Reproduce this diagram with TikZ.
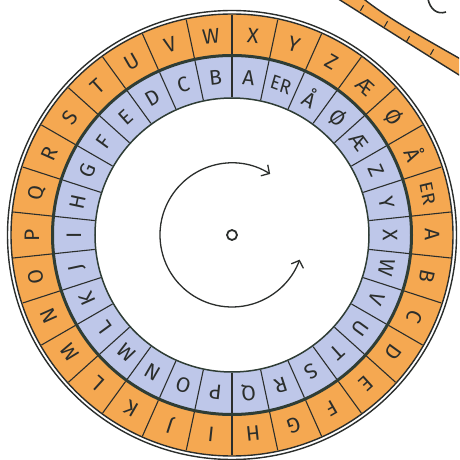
\documentclass[tikz,border=0pt]{standalone}
\usepackage{fontspec}
\setmainfont{Fira Sans}
\usetikzlibrary{arrows.meta}
\definecolor{ringorange}{HTML}{F5A851}
\definecolor{ringblue}{HTML}{BEC7E9}
\definecolor{ink}{HTML}{2B2E2C}
\definecolor{ringdark}{HTML}{2F3D35}
\begin{document}
\begin{tikzpicture}[x=1pt,y=1pt,
  letter/.style={text=ink, font=\fontsize{21}{21}\selectfont, inner sep=0pt},
  erletter/.style={text=ink, font=\fontsize{20}{20}\selectfont, inner sep=0pt, xscale=0.9},
  divider/.style={ink, line width=1.1},
  rim/.style={ink, line width=1.4},
  turn/.style={ink, line width=1.3, {Straight Barb[length=6pt,width=13pt]}-{Straight Barb[length=6pt,width=13pt]}}]
\useasboundingbox (-232,-225) rectangle (227,235);
\clip (-232,-225) rectangle (227,235);
\fill[white] (-232,-225) rectangle (227,235);
% part of another wheel, top right
\fill[ringorange] (100,240) .. controls (135,218) and (190,183) .. (232,157) -- (232,174) .. controls (190,198) and (150,220) .. (127,240) -- cycle;
\draw[rim] (100,240) .. controls (135,218) and (190,183) .. (232,157);
\draw[rim] (127,240) .. controls (150,220) and (190,198) .. (232,174);
\foreach \p in {(130,227),(154,211),(176,196),(200,183)}
  \draw[ink, line width=1.1] \p ++(-1.6,-2.8) -- ++(3.2,5.6);
\draw[ink, line width=1.6] (196,236) .. controls (198,226) and (205,220) .. (214,223);
% main wheel
\draw[rim] (0,0) circle (224.5);
\fill[ringorange] (0,0) circle (221);
\draw[rim] (0,0) circle (221);
\fill[ringblue] (0,0) circle (179);
\draw[ringdark, line width=3] (0,0) circle (179.5);
\fill[white] (0,0) circle (137);
\draw[ringdark, line width=1.5] (0,0) circle (137);
\foreach \k in {0,...,29} {
  \draw[divider] ({6+12*\k}:138) -- ({6+12*\k}:178);
  \draw[divider] ({6+12*\k}:181) -- ({6+12*\k}:220);
}
\foreach \l [count=\i from 0] in {A,B,C,D,E,F,G,H,I,J,K,L,M,N,O,P,Q,R,S,T,U,V,W,X,Y,Z,Æ,Ø,Å} {
  \node[letter, rotate={-12*\i-90}] (o\i) at ({-12*\i}:200) {\l};
  \node[letter, rotate={84+12*\i-90}] (n\i) at ({84+12*\i}:158) {\l};
}
\node[erletter, rotate={-348-90}] (o29) at (-348:200) {ER};
\node[erletter, rotate={72-90}] (n29) at (72:158) {ER};
% centre
\draw[turn] (58:72) arc[start angle=58, end angle=340, radius=72];
\node[circle, draw=ink, line width=1.8, minimum size=10pt, inner sep=0pt] (hub) at (0,0) {};
\end{tikzpicture}
\end{document}
